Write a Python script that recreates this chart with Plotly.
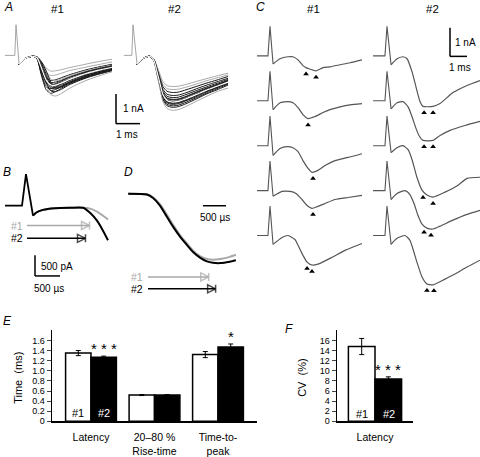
import plotly.graph_objects as go
import numpy as np

W, H = 480, 457
FONT = "Liberation Sans, Arial, sans-serif"

# ======================= DATA =======================
# ---- Panel A: superimposed EPSCs (time in ms, current in nA) ----
a1_stim_t = [-0.46, -0.05, 0.0, 0.13]
a2_stim_t = [-0.38, -0.05, 0.0, 0.17]
a_stim_i = [0.0, 0.0, 1.03, -0.30]

a1_t = [0.13, 0.38, 0.71, 0.88, 1.05, 1.25, 1.45, 1.65, 1.9, 2.2, 2.6, 3.0, 3.5, 4.0]
a1_traces = [
    [-0.30, -0.10, -0.03, -0.05, -0.20, -0.42, -0.53, -0.52, -0.48, -0.42, -0.35, -0.28, -0.20, -0.13],
    [-0.30, -0.10, -0.03, -0.06, -0.30, -0.58, -0.68, -0.66, -0.60, -0.52, -0.45, -0.38, -0.30, -0.22],
    [-0.30, -0.10, -0.03, -0.08, -0.40, -0.75, -0.85, -0.82, -0.75, -0.66, -0.56, -0.47, -0.38, -0.30],
    [-0.30, -0.10, -0.03, -0.05, -0.22, -0.55, -0.80, -0.86, -0.80, -0.70, -0.60, -0.50, -0.41, -0.33],
    [-0.30, -0.10, -0.03, -0.10, -0.50, -0.90, -1.00, -0.95, -0.86, -0.75, -0.64, -0.55, -0.45, -0.37],
    [-0.30, -0.10, -0.03, -0.06, -0.30, -0.70, -0.98, -1.02, -0.95, -0.84, -0.72, -0.60, -0.50, -0.41],
    [-0.30, -0.10, -0.03, -0.12, -0.60, -1.05, -1.12, -1.06, -0.97, -0.86, -0.74, -0.64, -0.54, -0.45],
    [-0.30, -0.10, -0.03, -0.05, -0.20, -0.50, -0.90, -1.10, -1.06, -0.95, -0.82, -0.70, -0.58, -0.48],
    [-0.30, -0.10, -0.03, -0.10, -0.55, -1.00, -1.18, -1.15, -1.05, -0.92, -0.80, -0.68, -0.57, -0.47],
    [-0.30, -0.10, -0.03, -0.08, -0.40, -0.90, -1.20, -1.22, -1.14, -1.00, -0.86, -0.74, -0.62, -0.52],
    [-0.30, -0.10, -0.03, -0.12, -0.65, -1.15, -1.28, -1.22, -1.10, -0.97, -0.84, -0.72, -0.61, -0.50],
    [-0.30, -0.10, -0.03, -0.08, -0.45, -1.00, -1.32, -1.37, -1.28, -1.12, -0.96, -0.82, -0.68, -0.55],
    [-0.30, -0.10, -0.03, -0.05, -0.25, -0.62, -0.95, -0.98, -0.90, -0.80, -0.68, -0.57, -0.47, -0.38],
    [-0.30, -0.10, -0.03, -0.10, -0.52, -0.85, -0.92, -0.90, -0.84, -0.74, -0.63, -0.53, -0.43, -0.35],
    [-0.30, -0.10, -0.03, -0.07, -0.35, -0.78, -1.05, -1.08, -1.01, -0.90, -0.77, -0.65, -0.54, -0.44],
    [-0.30, -0.10, -0.03, -0.09, -0.45, -0.92, -1.10, -1.12, -1.05, -0.93, -0.80, -0.69, -0.58, -0.48],
]
a1_mean = [-0.30, -0.10, -0.03, -0.08, -0.40, -0.82, -1.00, -1.00, -0.93, -0.82, -0.70, -0.59, -0.49, -0.40]

a2_t = [0.17, 0.42, 0.71, 0.88, 1.0, 1.13, 1.25, 1.42, 1.63, 1.88, 2.21, 2.63, 3.04, 3.5, 3.96]
a2_traces = [
    [-0.30, -0.10, -0.03, -0.13, -0.37, -0.65, -0.89, -1.02, -1.05, -1.04, -0.98, -0.88, -0.79, -0.69, -0.60],
    [-0.30, -0.10, -0.03, -0.14, -0.40, -0.71, -0.98, -1.12, -1.15, -1.14, -1.07, -0.97, -0.86, -0.76, -0.66],
    [-0.30, -0.10, -0.03, -0.15, -0.44, -0.78, -1.06, -1.21, -1.25, -1.24, -1.16, -1.05, -0.94, -0.83, -0.71],
    [-0.30, -0.10, -0.03, -0.16, -0.47, -0.84, -1.15, -1.31, -1.35, -1.34, -1.26, -1.13, -1.01, -0.89, -0.77],
    [-0.30, -0.10, -0.03, -0.17, -0.50, -0.88, -1.21, -1.38, -1.42, -1.41, -1.32, -1.19, -1.07, -0.94, -0.81],
    [-0.30, -0.10, -0.03, -0.18, -0.52, -0.92, -1.26, -1.44, -1.48, -1.47, -1.38, -1.24, -1.11, -0.98, -0.84],
    [-0.30, -0.10, -0.03, -0.19, -0.54, -0.96, -1.32, -1.50, -1.55, -1.53, -1.44, -1.30, -1.16, -1.02, -0.88],
    [-0.30, -0.10, -0.03, -0.19, -0.56, -0.99, -1.36, -1.55, -1.60, -1.58, -1.49, -1.34, -1.20, -1.06, -0.91],
    [-0.30, -0.10, -0.03, -0.20, -0.58, -1.02, -1.40, -1.60, -1.65, -1.63, -1.53, -1.39, -1.24, -1.09, -0.94],
    [-0.30, -0.10, -0.03, -0.20, -0.60, -1.05, -1.45, -1.65, -1.70, -1.68, -1.58, -1.43, -1.28, -1.12, -0.97],
    [-0.30, -0.10, -0.03, -0.21, -0.61, -1.09, -1.49, -1.70, -1.75, -1.73, -1.63, -1.47, -1.31, -1.16, -1.00],
    [-0.30, -0.10, -0.03, -0.22, -0.65, -1.15, -1.57, -1.79, -1.85, -1.83, -1.72, -1.55, -1.39, -1.22, -1.10],
    [-0.30, -0.10, -0.03, -0.18, -0.53, -0.93, -1.28, -1.46, -1.50, -1.49, -1.40, -1.26, -1.13, -0.99, -0.86],
    [-0.30, -0.10, -0.03, -0.19, -0.57, -1.00, -1.38, -1.57, -1.62, -1.60, -1.51, -1.36, -1.22, -1.07, -0.92],
]
a2_mean = [-0.30, -0.10, -0.03, -0.19, -0.55, -0.97, -1.33, -1.52, -1.57, -1.55, -1.46, -1.32, -1.18, -1.04, -0.90]

# ---- Panel B: averaged traces, onset (ms, nA) ----
b_stim_t = [-0.34, 0.0, 0.08, 0.22]
b_stim_i = [0.0, 0.0, 0.76, -0.24]
b_t = [0.22, 0.28, 0.42, 0.66, 0.96, 1.22, 1.36, 1.50, 1.62, 1.72]
b_i1 = [-0.24, -0.17, -0.10, -0.06, -0.05, -0.05, -0.07, -0.14, -0.24, -0.33]
b_i2 = [-0.24, -0.17, -0.10, -0.06, -0.05, -0.05, -0.17, -0.36, -0.60, -0.83]

# ---- Panel D: normalised rising phase (ms, normalised) ----
d_t = [-0.43, -0.02, 0.11, 0.26, 0.41, 0.54, 0.70, 0.85, 0.98, 1.13, 1.28, 1.41, 1.57, 1.78, 1.91]
d_i1 = [0.0, -0.01, -0.05, -0.15, -0.30, -0.44, -0.60, -0.72, -0.82, -0.90, -0.94, -0.95, -0.94, -0.91, -0.88]
d_i2 = [0.0, -0.01, -0.06, -0.17, -0.33, -0.47, -0.62, -0.74, -0.84, -0.92, -0.975, -0.995, -1.00, -0.98, -0.96]

# ---- Panel C: single sweeps (ms, nA) ----
c1_stim_t = [-0.76, -0.12, 0.0]
c2_stim_t = [-0.82, -0.12, 0.0]
c_stim_i = [0.0, 0.0, 1.03]

c1_t = [
    [0.18, 0.59, 1.06, 1.35, 1.65, 1.94, 2.12, 2.29, 2.71, 3.12, 3.53, 4.12, 4.71, 5.41],
    [0.18, 0.59, 1.06, 1.35, 1.65, 1.94, 2.24, 2.65, 3.12, 3.53, 4.12, 4.71, 5.41],
    [0.18, 0.59, 1.00, 1.35, 1.65, 1.94, 2.24, 2.47, 2.82, 3.24, 3.82, 4.59, 5.41],
    [0.18, 0.71, 1.18, 1.53, 1.88, 2.18, 2.47, 2.82, 3.24, 3.82, 4.59, 5.41],
    [0.18, 0.71, 1.06, 1.47, 1.65, 1.94, 2.18, 2.47, 2.82, 3.65, 4.41, 5.41],
]
c1_i = [
    [-0.28, -0.10, -0.03, -0.03, -0.14, -0.34, -0.41, -0.45, -0.52, -0.41, -0.38, -0.31, -0.24, -0.14],
    [-0.31, -0.07, -0.03, -0.07, -0.24, -0.48, -0.62, -0.55, -0.41, -0.31, -0.21, -0.14, -0.10],
    [-0.34, -0.10, -0.03, -0.07, -0.21, -0.52, -0.79, -0.93, -0.86, -0.69, -0.52, -0.41, -0.28],
    [-0.20, -0.03, -0.03, -0.10, -0.31, -0.52, -0.62, -0.55, -0.45, -0.31, -0.24, -0.17],
    [-0.31, -0.07, 0.0, -0.14, -0.34, -0.69, -0.93, -1.03, -1.00, -0.76, -0.52, -0.28],
]
c1_marks = [[2.12, 2.71], [2.24], [2.53], [2.53], [2.18, 2.47]]

c2_t = [
    [0.24, 0.59, 0.94, 1.18, 1.47, 1.76, 1.94, 2.12, 2.71, 3.12, 3.88, 4.71, 5.47],
    [0.24, 0.59, 0.94, 1.24, 1.47, 1.71, 1.88, 2.12, 2.71, 3.12, 3.71, 4.59, 5.47],
    [0.24, 0.59, 0.94, 1.24, 1.47, 1.76, 2.06, 2.35, 2.71, 3.41, 4.18, 4.71, 5.47],
    [0.24, 0.59, 1.06, 1.35, 1.59, 1.82, 2.06, 2.35, 2.71, 3.12, 3.88, 4.71, 5.47],
    [0.24, 0.59, 1.06, 1.35, 1.76, 2.06, 2.35, 2.71, 3.41, 3.88, 4.71, 5.47],
]
c2_i = [
    [-0.31, -0.10, -0.03, -0.10, -0.55, -1.21, -1.59, -1.76, -1.76, -1.66, -1.28, -1.03, -0.86],
    [-0.28, -0.07, -0.03, -0.21, -0.55, -0.97, -1.21, -1.38, -1.38, -1.21, -1.03, -0.86, -0.72],
    [-0.24, -0.07, 0.0, -0.14, -0.48, -1.10, -1.55, -1.72, -1.79, -1.62, -1.38, -1.14, -1.10],
    [-0.31, -0.10, 0.0, -0.14, -0.45, -0.86, -1.17, -1.31, -1.34, -1.24, -1.03, -0.83, -0.69],
    [-0.31, -0.10, 0.0, -0.17, -0.93, -1.45, -1.69, -1.72, -1.52, -1.38, -1.10, -0.86],
]
c2_marks = [[2.18, 2.71], [2.18, 2.71], [2.12, 2.71], [2.18, 2.59], [2.35, 2.76]]

# ---- Panel E: kinetics (ms) ----
e_categories = ["Latency", "20\u201380 %<br>Rise-time", "Time-to-<br>peak"]
e_g1 = [1.35, 0.52, 1.32]
e_g1_err = [0.05, 0.01, 0.06]
e_g2 = [1.27, 0.52, 1.47]
e_g2_err = [0.02, 0.01, 0.06]
e_sig = ["***", "", "*"]
e_yticks = [0, 0.2, 0.4, 0.6, 0.8, 1.0, 1.2, 1.4, 1.6]
e_yticktext = ["0", "0.2", "0.4", "0.6", "0.8", "1.0", "1.2", "1.4", "1.6"]

# ---- Panel F: CV of latency (%) ----
f_categories = ["Latency"]
f_g1 = [14.8]
f_g1_err = [1.6]
f_g2 = [8.4]
f_g2_err = [0.4]
f_sig = ["***"]
f_yticks = [0, 2, 4, 6, 8, 10, 12, 14, 16]

# ======================= LAYOUT HELPERS =======================
layout = dict(width=W, height=H, margin=dict(l=0, r=0, t=0, b=0), autosize=False,
              paper_bgcolor="white", plot_bgcolor="rgba(0,0,0,0)", showlegend=False,
              font=dict(family=FONT, color="black"), barmode="overlay", hovermode=False)
shapes, annotations = [], []
SMOOTH = 0.55


def names(i):
    if i == 1:
        return "xaxis", "yaxis", "x", "y"
    return f"xaxis{i}", f"yaxis{i}", f"x{i}", f"y{i}"


def hidden_axis(i, box, origin, scale):
    x0, x1, y0, y1 = box
    ox, oy = origin
    sx, sy = scale
    xn, yn, xr, yr = names(i)
    layout[xn] = dict(domain=[x0 / W, x1 / W], range=[(x0 - ox) / sx, (x1 - ox) / sx],
                      visible=False, anchor=yr, fixedrange=True)
    layout[yn] = dict(domain=[1 - y1 / H, 1 - y0 / H], range=[(oy - y1) / sy, (oy - y0) / sy],
                      visible=False, anchor=xr, fixedrange=True)
    return dict(xaxis=xr, yaxis=yr)


def px(x):
    return x / W


def py(y):
    return 1 - y / H


def text(x, y, s, size=11, color="black", italic=False, angle=0, xanchor="center"):
    annotations.append(dict(x=px(x), y=py(y), xref="paper", yref="paper", text=s, showarrow=False,
                            xanchor=xanchor, yanchor="middle", textangle=angle,
                            font=dict(size=size, color=color, family=FONT,
                                      style="italic" if italic else "normal")))


def hline(x0, x1, y, w=1.5, color="black"):
    shapes.append(dict(type="line", xref="paper", yref="paper", x0=px(x0), x1=px(x1),
                       y0=py(y), y1=py(y), line=dict(color=color, width=w)))


def vline(x, y0, y1, w=1.5, color="black"):
    shapes.append(dict(type="line", xref="paper", yref="paper", x0=px(x), x1=px(x),
                       y0=py(y0), y1=py(y1), line=dict(color=color, width=w)))


def spline(w, color):
    return dict(color=color, width=w, shape="spline", smoothing=SMOOTH)


fig = go.Figure()

# ---------------- Panel A ----------------
A_SCALE = (24, 30)   # px per ms, px per nA
axA1 = hidden_axis(1, (0, 122, 15, 118), (16, 56), A_SCALE)
axA2 = hidden_axis(2, (118, 236, 15, 118), (133, 56), A_SCALE)
for ax, st, tt, trs, mean, gidx in [(axA1, a1_stim_t, a1_t, a1_traces, a1_mean, {0, 1, 11, 3}),
                                     (axA2, a2_stim_t, a2_t, a2_traces, a2_mean, {0, 11, 1})]:
    fig.add_trace(go.Scatter(x=st, y=a_stim_i, mode="lines", line=dict(color="#9a9a9a", width=0.9),
                             hoverinfo="skip", **ax))
    for k, tr in enumerate(trs):
        col = "#a8a8a8" if k in gidx else "#1a1a1a"
        fig.add_trace(go.Scatter(x=tt, y=tr, mode="lines", line=spline(1.0, col),
                                 hoverinfo="skip", **ax))
    fig.add_trace(go.Scatter(x=tt, y=mean, mode="lines", line=spline(1.2, "white"),
                             hoverinfo="skip", **ax))
vline(116, 95, 95 + 1 * A_SCALE[1])
hline(116, 116 + 1 * A_SCALE[0], 95 + 1 * A_SCALE[1])
text(133, 110, "1 nA", 10)
text(127, 136, "1 ms", 10)
text(8, 7, "A", 12, italic=True)
text(57, 9, "#1", 11.5)
text(174, 9, "#2", 11.5)

# ---------------- Panel B ----------------
B_SCALE = (50, 42)
axB = hidden_axis(3, (0, 120, 168, 300), (22, 208), B_SCALE)
fig.add_trace(go.Scatter(x=b_t, y=b_i1, mode="lines", line=spline(2, "#a8a8a8"),
                         hoverinfo="skip", **axB))
fig.add_trace(go.Scatter(x=b_stim_t, y=b_stim_i, mode="lines", line=dict(color="black", width=1.8),
                         hoverinfo="skip", **axB))
fig.add_trace(go.Scatter(x=b_t, y=b_i2, mode="lines", line=spline(2, "black"),
                         hoverinfo="skip", **axB))
for val, ypx, col, lab in [(e_g1[0], 228, "#a8a8a8", "#1"), (e_g2[0], 241, "black", "#2")]:
    yv = (208 - ypx) / B_SCALE[1]
    fig.add_trace(go.Scatter(x=[0.1, val], y=[yv, yv], mode="lines+markers",
                             line=dict(color=col, width=1.5),
                             marker=dict(symbol="arrow-bar-right-open", size=[0, 8], color=col,
                                         line=dict(color=col, width=1.5)),
                             hoverinfo="skip", **axB))
    text(17, ypx, lab, 10.5, color=col)
vline(35, 258, 258 + 0.5 * B_SCALE[1])
hline(35, 35 + 0.5 * B_SCALE[0], 258 + 0.5 * B_SCALE[1])
text(57, 269, "500 pA", 10)
text(49, 292, "500 \u00b5s", 10)
text(7, 174, "B", 12, italic=True)

# ---------------- Panel D ----------------
D_SCALE = (46, 70)
axD = hidden_axis(4, (120, 245, 168, 300), (148, 196), D_SCALE)
fig.add_trace(go.Scatter(x=d_t, y=d_i1, mode="lines", line=spline(2, "#a8a8a8"),
                         hoverinfo="skip", **axD))
fig.add_trace(go.Scatter(x=d_t, y=d_i2, mode="lines", line=spline(2, "black"),
                         hoverinfo="skip", **axD))
for val, ypx, col, lab in [(e_g1[2], 280, "#a8a8a8", "#1"), (e_g2[2], 292, "black", "#2")]:
    yv = (196 - ypx) / D_SCALE[1]
    fig.add_trace(go.Scatter(x=[0.0, val], y=[yv, yv], mode="lines+markers",
                             line=dict(color=col, width=1.5),
                             marker=dict(symbol="arrow-bar-right-open", size=[0, 8], color=col,
                                         line=dict(color=col, width=1.5)),
                             hoverinfo="skip", **axD))
    text(137, ypx, lab, 10.5, color=col)
hline(203, 203 + 0.5 * D_SCALE[0], 208)
text(215, 220, "500 \u00b5s", 10)
text(128, 174, "D", 12, italic=True)

# ---------------- Panel C ----------------
C_SCALE = (17, 29)
ROW_STEP = 45.4 / C_SCALE[1]
MARK_GAP = 6.5 / C_SCALE[1]
axC1 = hidden_axis(5, (250, 370, 15, 305), (270, 56.5), C_SCALE)
axC2 = hidden_axis(6, (368, 480, 15, 305), (387, 56.5), C_SCALE)
for ax, st, ts, iis, marks in [(axC1, c1_stim_t, c1_t, c1_i, c1_marks),
                               (axC2, c2_stim_t, c2_t, c2_i, c2_marks)]:
    for r in range(5):
        off = -r * ROW_STEP
        sx = list(st) + [ts[r][0]]
        sy = [v + off for v in c_stim_i] + [iis[r][0] + off]
        fig.add_trace(go.Scatter(x=sx, y=sy, mode="lines", line=dict(color="#555555", width=1.1),
                                 hoverinfo="skip", **ax))
        fig.add_trace(go.Scatter(x=ts[r], y=[v + off for v in iis[r]], mode="lines",
                                 line=spline(1.2, "#555555"), hoverinfo="skip", **ax))
        my = [float(np.interp(m, ts[r], iis[r])) + off - MARK_GAP for m in marks[r]]
        fig.add_trace(go.Scatter(x=marks[r], y=my, mode="markers",
                                 marker=dict(symbol="triangle-up", size=5, color="black"),
                                 hoverinfo="skip", **ax))
vline(450, 28, 28 + 1 * C_SCALE[1])
hline(450, 450 + 1 * C_SCALE[0], 28 + 1 * C_SCALE[1])
text(465, 43, "1 nA", 10)
text(460, 68, "1 ms", 10)
text(260, 7, "C", 12, italic=True)
text(313, 9, "#1", 11.5)
text(432, 9, "#2", 11.5)

# ---------------- Panel E ----------------
err_style = dict(type="data", color="black", thickness=1, width=2.5)
xE = list(range(len(e_categories)))
fig.add_trace(go.Bar(x=xE, y=e_g1, width=0.4, offset=-0.4,
                     marker=dict(color="white", line=dict(color="black", width=1.5)),
                     error_y=dict(array=e_g1_err, **err_style), xaxis="x7", yaxis="y7"))
fig.add_trace(go.Bar(x=xE, y=e_g2, width=0.4, offset=0.0,
                     marker=dict(color="black", line=dict(color="black", width=1.5)),
                     error_y=dict(array=e_g2_err, **err_style), xaxis="x7", yaxis="y7"))
axis_common = dict(showline=True, linecolor="black", linewidth=1.5, showgrid=False, zeroline=False,
                   fixedrange=True)
layout["xaxis7"] = dict(domain=[px(52), px(257)], range=[-0.614, 2.614], anchor="y7",
                        tickvals=xE, ticktext=e_categories, ticks="", tickfont=dict(size=10.5),
                        ticklabelstandoff=6, **axis_common)
layout["yaxis7"] = dict(domain=[py(426), py(334)], range=[0, 1.8], anchor="x7",
                        tickvals=e_yticks, ticktext=e_yticktext, ticks="outside", ticklen=4,
                        tickwidth=1, tickfont=dict(size=9), **axis_common)
for i, s in enumerate(e_sig):
    if s:
        annotations.append(dict(x=i + 0.2, y=e_g2[i] + e_g2_err[i], xref="x7", yref="y7",
                                text=" ".join(s), showarrow=False, yanchor="bottom", yshift=-3,
                                font=dict(size=15, family=FONT, color="black")))
text(78, 418, "#1", 11)
text(104, 418, "#2", 11, color="white")
text(18, 382, "Time  (ms)", 11, angle=-90)
text(7, 325, "E", 12, italic=True)

# ---------------- Panel F ----------------
fig.add_trace(go.Bar(x=[0], y=f_g1, width=0.35, offset=-0.35,
                     marker=dict(color="white", line=dict(color="black", width=1.5)),
                     error_y=dict(array=f_g1_err, **err_style), xaxis="x8", yaxis="y8"))
fig.add_trace(go.Bar(x=[0], y=f_g2, width=0.35, offset=0.0,
                     marker=dict(color="black", line=dict(color="black", width=1.5)),
                     error_y=dict(array=f_g2_err, **err_style), xaxis="x8", yaxis="y8"))
layout["xaxis8"] = dict(domain=[px(337), px(413)], range=[-0.5, 0.5], anchor="y8",
                        tickvals=[0], ticktext=f_categories, ticks="", tickfont=dict(size=10.5),
                        ticklabelstandoff=6, **axis_common)
layout["yaxis8"] = dict(domain=[py(426), py(334)], range=[0, 18], anchor="x8",
                        tickvals=f_yticks, ticks="outside", ticklen=4, tickwidth=1,
                        tickfont=dict(size=9), **axis_common)
annotations.append(dict(x=0.175, y=f_g2[0] + f_g2_err[0], xref="x8", yref="y8",
                        text=" ".join(f_sig[0]), showarrow=False, yanchor="bottom", yshift=-3,
                        font=dict(size=15, family=FONT, color="black")))
text(362, 419, "#1", 11)
text(389, 419, "#2", 11, color="white")
text(302, 382, "CV  (%)", 11, angle=-90)
text(289, 333, "F", 12, italic=True)

layout["shapes"] = shapes
layout["annotations"] = annotations
fig.update_layout(**layout)
fig.write_html("out.html", config={"displayModeBar": False, "staticPlot": True},
               post_script="document.body.style.margin='0';document.body.style.overflow='hidden';")
